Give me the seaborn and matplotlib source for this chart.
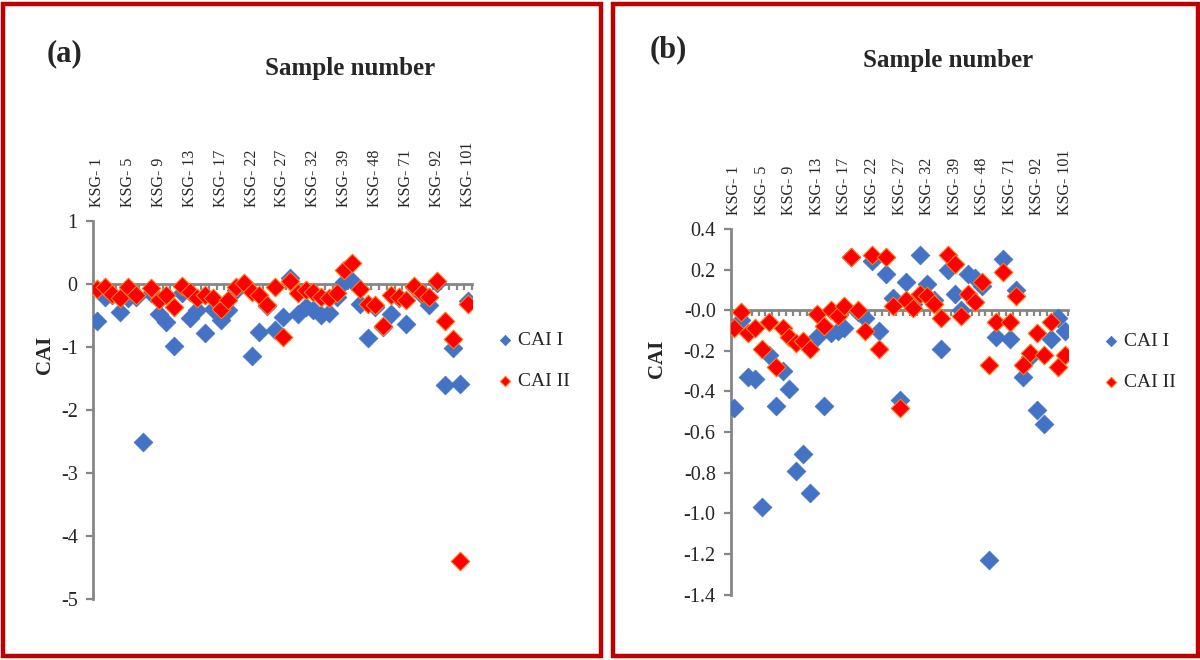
import numpy as np
import pandas as pd
import matplotlib
matplotlib.use("Agg")
import matplotlib.pyplot as plt
from matplotlib.patches import Rectangle
from matplotlib.ticker import FormatStrFormatter
import seaborn as sns

# labels shown on the category axis (every 4th sample)
tick_labels = ["KSG- 1", "KSG- 5", "KSG- 9", "KSG- 13", "KSG- 17", "KSG- 22", "KSG- 27",
               "KSG- 32", "KSG- 39", "KSG- 48", "KSG- 71", "KSG- 92", "KSG- 101"]

# panel (a)
cai1_a = [-0.58, -0.20, -0.18, -0.44, -0.22, -0.20, -2.50, -0.15, -0.47, -0.60,
          -0.98, -0.15, -0.54, -0.41, -0.77, -0.40, -0.57, -0.42, -0.10, 0.00,
          -1.14, -0.76, -0.35, -0.73, -0.52, 0.09, -0.47, -0.36, -0.41, -0.49,
          -0.46, -0.20, 0.03, 0.05, -0.31, -0.86, -0.36, -0.68, -0.47, -0.22,
          -0.63, -0.05, -0.18, -0.33, 0.02, -1.60, -1.02, -1.58, -0.27]
cai2_a = [-0.08, -0.05, -0.16, -0.23, -0.05, -0.17, np.nan, -0.07, -0.25, -0.17,
          -0.37, -0.03, -0.12, -0.23, -0.17, -0.23, -0.39, -0.25, -0.05, 0.02,
          -0.12, -0.17, -0.33, -0.05, -0.84, 0.04, -0.15, -0.10, -0.12, -0.20,
          -0.23, -0.14, 0.22, 0.33, -0.08, -0.31, -0.33, -0.67, -0.17, -0.20,
          -0.25, -0.03, -0.15, -0.20, 0.04, -0.58, -0.88, -4.40, -0.32]

# panel (b)
cai1_b = [-0.48, -0.05, -0.33, -0.34, -0.97, -0.22, -0.47, -0.30, -0.39, -0.79,
          -0.71, -0.90, -0.13, -0.47, -0.11, -0.10, -0.09, 0.26, -0.01, -0.04,
          0.24, -0.10, 0.18, 0.06, -0.44, 0.14, 0.03, 0.27, 0.13, 0.05,
          -0.19, 0.20, 0.08, 0.00, 0.18, 0.16, 0.12, -1.23, -0.13, 0.25,
          -0.14, 0.10, -0.33, -0.23, -0.49, -0.56, -0.14, -0.04, -0.10]
cai2_b = [-0.09, -0.01, -0.11, -0.09, -0.19, -0.06, -0.28, -0.09, -0.13, -0.16,
          -0.15, -0.19, -0.02, -0.08, 0.00, -0.03, 0.02, 0.26, 0.00, -0.10,
          0.27, -0.19, 0.26, 0.02, -0.48, 0.05, 0.01, 0.08, 0.07, 0.03,
          -0.04, 0.27, 0.23, -0.03, 0.08, 0.04, 0.14, -0.27, -0.06, 0.19,
          -0.06, 0.07, -0.27, -0.21, -0.11, -0.22, -0.06, -0.28, -0.22]

BLUE = "#4472C4"
RED = "#FF0000"
GREY = "#868686"
DARKRED = "#C00000"

sns.set_style("white")
plt.rcParams["font.family"] = ["Liberation Serif", "DejaVu Serif"]
plt.rcParams["axes.unicode_minus"] = False

fig = plt.figure(figsize=(12, 6.6), dpi=100)
W, H = 1200, 660


def fx(px):
    return px / W


def fy(py):
    return 1 - py / H


# red frames round each panel
fig.patches.append(Rectangle((fx(3), fy(656)), fx(598), fy(4) - fy(656), transform=fig.transFigure,
                             fill=False, edgecolor=DARKRED, linewidth=3.2, zorder=0))
fig.patches.append(Rectangle((fx(613), fy(656)), fx(585), fy(4) - fy(656), transform=fig.transFigure,
                             fill=False, edgecolor=DARKRED, linewidth=3.2, zorder=0))


def panel(rect, c1, c2, ylim, ystep, yfmt, letter, letter_xy, title_xy, ylab_x, leg_xy):
    ax = fig.add_axes(rect)
    n = len(c1)
    pos = np.arange(n)
    sns.scatterplot(x=pos, y=c1, marker="D", s=90, color=BLUE, edgecolor=BLUE,
                    linewidth=0.6, label="CAI I", ax=ax, zorder=3)
    sns.scatterplot(x=pos, y=c2, marker="D", s=90, color=RED, edgecolor="#FF7A1A",
                    linewidth=0.8, label="CAI II", ax=ax, zorder=4)
    ax.set_xlim(-0.5, n - 0.5)
    ax.set_ylim(*ylim)

    # category axis drawn at zero, ticks between categories
    ax.spines["bottom"].set_position(("data", 0))
    ax.spines["bottom"].set_color(GREY)
    ax.spines["bottom"].set_linewidth(2.0)
    ax.spines["left"].set_color(GREY)
    ax.spines["left"].set_linewidth(2.0)
    ax.spines["top"].set_visible(False)
    ax.spines["right"].set_visible(False)
    ax.set_xticks(np.arange(-0.5, n, 1.0))
    ax.set_xticklabels([])
    ax.tick_params(axis="x", direction="out", length=4, width=1.6, color=GREY, bottom=True)

    ax.set_yticks(np.arange(ylim[0], ylim[1] + ystep / 2, ystep))
    ax.yaxis.set_major_formatter(FormatStrFormatter(yfmt))
    ax.tick_params(axis="y", direction="out", length=5, width=1.6, color=GREY, left=True,
                   labelsize=14.5, pad=6)

    top = ax.secondary_xaxis("top")
    top.set_xticks(pos[::4])
    top.set_xticklabels(tick_labels, rotation=90, fontsize=11.5)
    top.tick_params(length=0, pad=10)
    top.spines["top"].set_visible(False)

    ax.set_ylabel("CAI", fontsize=15, fontweight="bold")
    ax.yaxis.set_label_coords(ylab_x, 0.645)

    ax.legend(loc="center left", bbox_to_anchor=(fx(leg_xy[0]), fy(leg_xy[1])),
              bbox_transform=fig.transFigure, frameon=False, fontsize=14,
              markerscale=0.55, handlelength=1.0, handletextpad=0.15,
              labelspacing=1.2, borderpad=0)

    fig.text(fx(letter_xy[0]), fy(letter_xy[1]), letter, fontsize=22, fontweight="bold",
             ha="center", va="center")
    fig.text(fx(title_xy[0]), fy(title_xy[1]), "Sample number", fontsize=18, fontweight="bold",
             ha="center", va="center")
    return ax


panel([fx(93), fy(599), fx(472) - fx(93), fy(221) - fy(599)], cai1_a, cai2_a,
      (-5, 1), 1, "%d", "(a)", (64, 54), (350, 68), -0.10, (486, 361))
panel([fx(731), fy(594.5), fx(1068) - fx(731), fy(229) - fy(594.5)], cai1_b, cai2_b,
      (-1.4, 0.4), 0.2, "%.1f", "(b)", (668, 50), (948, 61), -0.19, (1092, 362))

fig.savefig("out.png", dpi=100)
